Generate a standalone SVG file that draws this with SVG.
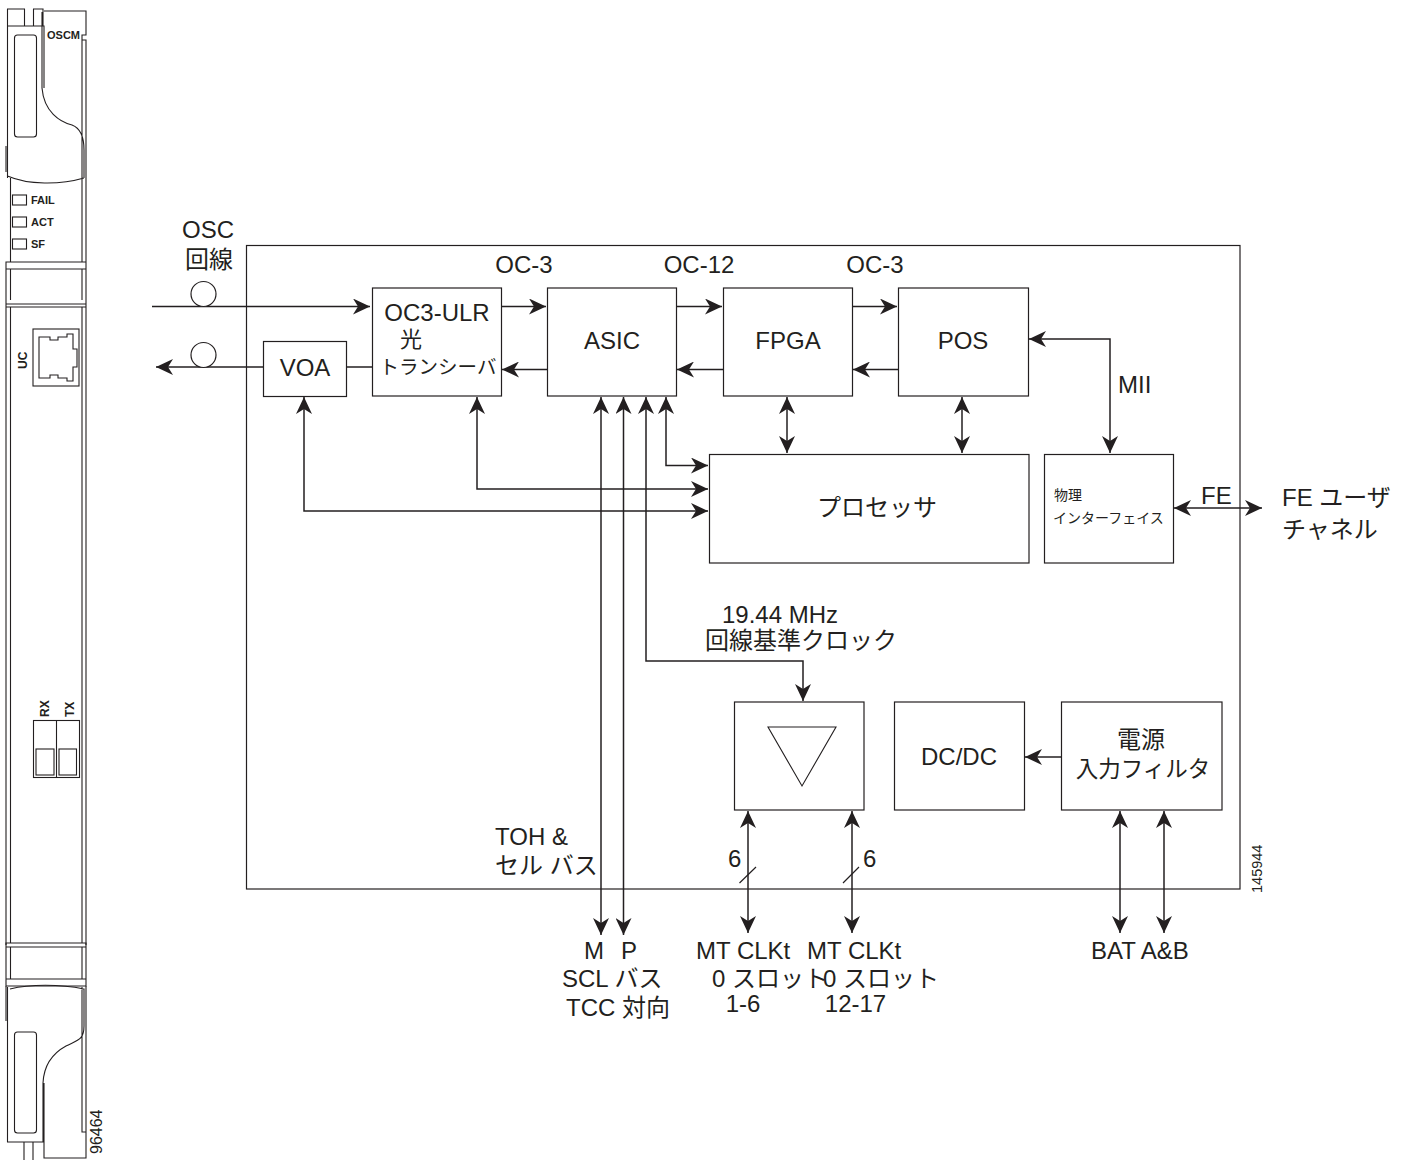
<svg xmlns="http://www.w3.org/2000/svg" width="1410" height="1160" viewBox="0 0 1410 1160">
<style>
text{font-family:"Liberation Sans","Noto Sans CJK JP",sans-serif;font-size:24px;fill:#231f20}
.c{text-anchor:middle}
.b{fill:#fff;stroke:#231f20;stroke-width:1.2}
.l{fill:none;stroke:#231f20;stroke-width:1.5}
.p{fill:none;stroke:#231f20;stroke-width:1.1}
.pb{font-size:11px;font-weight:bold}
.a{marker-end:url(#ah)}
.aa{marker-end:url(#ah);marker-start:url(#as)}
</style>
<defs>
<marker id="ah" viewBox="0 0 18 16" refX="17" refY="8" markerWidth="18" markerHeight="16" markerUnits="userSpaceOnUse" orient="auto"><path d="M0 0L17 8L0 16L5 8Z" fill="#231f20"/></marker>
<marker id="as" viewBox="0 0 18 16" refX="1" refY="8" markerWidth="18" markerHeight="16" markerUnits="userSpaceOnUse" orient="auto"><path d="M18 0L1 8L18 16L13 8Z" fill="#231f20"/></marker>
</defs>
<g id="card">
<path class="p" d="M7.500 26V9H24.500V26M33.500 26V9H43V26M44 11H86V35H82V40H86V262M7.500 26H44V88M42 12V88C44 112 60 122 72 125C80 128 84 136 84 150V178M7.500 26V178M6 146V172M7.500 176C28 185 60 185 84 178M82 40V262M10.500 178V262M6 262H86V269H6ZM10.500 269V300M82 269V300M6 269V300M86 269V300"/>
<rect class="p" x="14.500" y="35" width="22" height="102" rx="3"/>
<rect class="p" x="12.500" y="195" width="14" height="10"/><rect class="p" x="12.500" y="217" width="14" height="10"/><rect class="p" x="12.500" y="239" width="14" height="10"/>
<text class="pb" x="47" y="39">OSCM</text><text class="pb" x="31" y="204">FAIL</text><text class="pb" x="31" y="226">ACT</text><text class="pb" x="31" y="248">SF</text>
<path class="p" d="M6 304H86M6 307H86M6 300V945M10.500 307V943M82 307V943M86 300V945"/>
<rect class="p" x="33" y="329" width="46" height="57"/>
<path class="p" d="M39 337H50V340H58V337H67V334H73V349H77V367H73V381H67V378H58V375H50V378H39Z"/>
<text class="pb" transform="translate(27 369) rotate(-90)" style="font-size:12px">UC</text>
<rect class="p" x="33.500" y="720.500" width="46" height="57"/><path class="p" d="M56.500 720.500V777.500"/><rect class="p" x="36" y="749" width="18" height="26"/><rect class="p" x="59" y="749" width="17.500" height="26"/>
<text class="pb" transform="translate(49 717) rotate(-90)" style="font-size:12px">RX</text><text class="pb" transform="translate(74 717) rotate(-90)" style="font-size:12px">TX</text>
<path class="p" d="M6 943H86V947H6ZM6 947V979H86V947M6 979H86V986H6ZM10.500 947V979M82 947V979"/>
<path class="p" d="M6 986V1021M7.500 987V1142H44M10 989C30 984 60 984 84 989V1026C84 1040 78 1040 66 1046C55 1052 44 1062 43 1083V1142M44 1083V1158H86V1132H82V987M86 986V1132M24 1142V1160M33 1142V1160"/>
<rect class="p" x="14.500" y="1032" width="22" height="101" rx="3"/>
<text transform="translate(102 1154) rotate(-90)" style="font-size:16px">96464</text>
</g>
<g id="frame"><rect x="246.500" y="245.500" width="993.500" height="643.500" fill="none" stroke="#231f20" stroke-width="1.2"/>
<text transform="translate(1262 893) rotate(-90)" style="font-size:14.500px">145944</text></g>
<g id="connectors">
<path class="l a" d="M152 306.500H370"/>
<path class="l a" d="M263 367H156"/>
<path class="l" d="M346 367H372"/>
<path class="l a" d="M501 306.500H546"/><path class="l a" d="M547 369.500H502"/>
<path class="l a" d="M676 306.500H722"/><path class="l a" d="M723 369.500H677"/>
<path class="l a" d="M852 306.500H897"/><path class="l a" d="M898 369.500H853"/>
<path class="l aa" d="M601 397V935"/><path class="l aa" d="M623.500 397V935"/>
<path class="l aa" d="M646 397V661H803V701"/>
<path class="l aa" d="M666 397V465.500H708"/>
<path class="l aa" d="M477 397V489H708"/>
<path class="l aa" d="M304 397V511H708"/>
<path class="l aa" d="M787 397V453"/><path class="l aa" d="M962 397V453"/>
<path class="l aa" d="M1029 339H1110V453"/>
<path class="l aa" d="M1174 508H1262"/>
<path class="l aa" d="M748 811V933"/><path class="l aa" d="M852 811V933"/>
<path class="l a" d="M1061 757H1025"/>
<path class="l aa" d="M1120 811V933"/><path class="l aa" d="M1164 811V933"/>
<path d="M739.500 883L756 867M843 883L859 867" fill="none" stroke="#231f20" stroke-width="1.2"/>
</g>
<circle class="b" cx="203.500" cy="294" r="12.500"/><circle class="b" cx="203.500" cy="355" r="12.500"/>
<g id="voa"><rect class="b" x="263.500" y="341.500" width="83" height="55"/><text class="c" x="305" y="376">VOA</text></g>
<g id="ulr"><rect class="b" x="372.500" y="288" width="129" height="108"/><text class="c" x="437" y="321">OC3-ULR</text><text x="400" y="347" style="font-size:22px">光</text><text class="c" x="438" y="374" style="font-size:19.500px">トランシーバ</text></g>
<g id="asic"><rect class="b" x="547.500" y="288" width="129" height="108"/><text class="c" x="612" y="349">ASIC</text></g>
<g id="fpga"><rect class="b" x="723.500" y="288" width="129" height="108"/><text class="c" x="788" y="349">FPGA</text></g>
<g id="pos"><rect class="b" x="898.500" y="288" width="130" height="108"/><text class="c" x="963" y="349">POS</text></g>
<g id="proc"><rect class="b" x="709.500" y="454.500" width="319.500" height="108.500"/><text class="c" x="877" y="516">プロセッサ</text></g>
<g id="phy"><rect class="b" x="1044.500" y="454.500" width="129" height="108.500"/><text x="1054" y="500" style="font-size:14px">物理</text><text x="1053" y="523" style="font-size:14px">インターフェイス</text></g>
<g id="clk"><rect class="b" x="734.500" y="702" width="129.500" height="108"/><path class="p" d="M768 727H836L802 786Z"/></g>
<g id="dcdc"><rect class="b" x="894.500" y="702" width="130" height="108"/><text class="c" x="959" y="765">DC/DC</text></g>
<g id="pwr"><rect class="b" x="1061.500" y="702" width="160.500" height="108"/><text class="c" x="1141" y="748">電源</text><text class="c" x="1143" y="777" style="font-size:22.500px">入力フィルタ</text></g>
<g id="labels">
<text class="c" x="208" y="238">OSC</text><text class="c" x="209" y="268">回線</text>
<text class="c" x="524" y="273">OC-3</text><text class="c" x="699" y="273">OC-12</text><text class="c" x="875" y="273">OC-3</text>
<text x="1118" y="393">MII</text>
<text x="1201" y="504">FE</text><text x="1282" y="506">FE ユーザ</text><text x="1282" y="538">チャネル</text>
<text class="c" x="780" y="623">19.44 MHz</text><text class="c" x="801" y="649">回線基準クロック</text>
<text x="495" y="845">TOH &amp;</text><text x="495" y="874">セル バス</text>
<text x="728" y="867">6</text><text x="863" y="867">6</text>
<text x="584" y="959">M</text><text x="621" y="959">P</text>
<text x="562" y="987">SCL バス</text><text x="566" y="1016">TCC 対向</text>
<text x="696" y="959">MT CLKt</text><text x="712" y="987">0 スロット</text><text class="c" x="743" y="1012">1-6</text>
<text x="807" y="959">MT CLKt</text><text x="823" y="987">0 スロット</text><text class="c" x="855.500" y="1012">12-17</text>
<text x="1091" y="959">BAT A&amp;B</text>
</g>
</svg>
